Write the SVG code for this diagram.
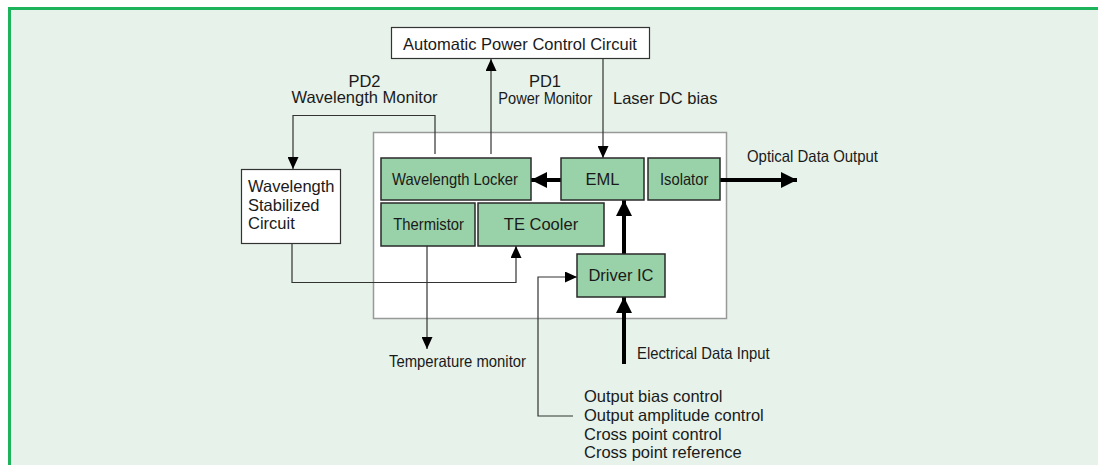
<svg xmlns="http://www.w3.org/2000/svg" width="1098" height="465" viewBox="0 0 1098 465">
<style>
.t{font-family:"Liberation Sans",Arial,sans-serif;fill:#1a1a1a;font-size:16.5px}
.g{fill:#99d1a8;stroke:#2a2a2a;stroke-width:1.5}
.w{fill:#ffffff;stroke:#333;stroke-width:1.2}
.thin{fill:none;stroke:#333;stroke-width:1.2}
.thick{fill:none;stroke:#000;stroke-width:4}
</style>
<defs>
<marker id="ah" markerUnits="userSpaceOnUse" markerWidth="12" markerHeight="11" refX="12" refY="5.5" orient="auto" viewBox="0 0 12 11"><path d="M0,0 L12,5.5 L0,11 z" fill="#000"/></marker>
<marker id="AH" markerUnits="userSpaceOnUse" markerWidth="16" markerHeight="16" refX="16" refY="8" orient="auto" viewBox="0 0 16 16"><path d="M0,0 L16,8 L0,16 z" fill="#000"/></marker>
</defs>
<rect x="9.5" y="8.5" width="1089" height="457" fill="#e6f2ea"/>
<path d="M9.5,465 V8.5 H1098" fill="none" stroke="#1db35a" stroke-width="3"/>
<g id="module"><rect x="373.5" y="132.5" width="353" height="186" fill="#ffffff" stroke="#999" stroke-width="1.5"/></g>
<g id="connectors">
<path class="thin" d="M435,154 V115.5 H293 V169" marker-end="url(#ah)"/>
<path class="thin" d="M491,154 V59" marker-end="url(#ah)"/>
<path class="thin" d="M603,59 V158" marker-end="url(#ah)"/>
<path class="thin" d="M292,243 V282.5 H516 V246" marker-end="url(#ah)"/>
<path class="thin" d="M427,246 V349" marker-end="url(#ah)"/>
<path class="thin" d="M573,416 H538 V277 H577" marker-end="url(#ah)"/>
<path class="thick" d="M561,180 H531" marker-end="url(#AH)"/>
<path class="thick" d="M720,180 H797" marker-end="url(#AH)"/>
<path class="thick" d="M624,254 V200" marker-end="url(#AH)"/>
<path class="thick" d="M624,364 V297" marker-end="url(#AH)"/>
</g>
<g id="apc"><rect class="w" x="391.5" y="27.5" width="258" height="31"/><text class="t" x="520" y="49.5" text-anchor="middle">Automatic Power Control Circuit</text></g>
<g id="wsc"><rect class="w" x="241.5" y="169.5" width="99" height="74"/><text class="t" x="248" y="191.7">Wavelength</text><text class="t" x="248" y="210.7">Stabilized</text><text class="t" x="248" y="229.3">Circuit</text></g>
<g id="locker"><rect class="g" x="381" y="158" width="150" height="42"/><text class="t" x="392" y="185" textLength="126" lengthAdjust="spacingAndGlyphs">Wavelength Locker</text></g>
<g id="eml"><rect class="g" x="561" y="158" width="83" height="42"/><text class="t" x="602.5" y="185" text-anchor="middle">EML</text></g>
<g id="isolator"><rect class="g" x="648" y="158" width="72" height="42"/><text class="t" x="660" y="185" textLength="48.3" lengthAdjust="spacingAndGlyphs">Isolator</text></g>
<g id="thermistor"><rect class="g" x="381" y="203" width="94" height="43"/><text class="t" x="393.3" y="230" textLength="70.7" lengthAdjust="spacingAndGlyphs">Thermistor</text></g>
<g id="tecooler"><rect class="g" x="478" y="203" width="126" height="43"/><text class="t" x="541" y="230" text-anchor="middle">TE Cooler</text></g>
<g id="driver"><rect class="g" x="577" y="254" width="88" height="43"/><text class="t" x="621" y="281" text-anchor="middle">Driver IC</text></g>
<g id="labels">
<text class="t" x="364.5" y="86.5" text-anchor="middle">PD2</text>
<text class="t" x="364.5" y="103.3" text-anchor="middle">Wavelength Monitor</text>
<text class="t" x="545" y="87" text-anchor="middle">PD1</text>
<text class="t" x="498.3" y="104" textLength="94" lengthAdjust="spacingAndGlyphs">Power Monitor</text>
<text class="t" x="613" y="104">Laser DC bias</text>
<text class="t" x="747" y="161.7" textLength="131" lengthAdjust="spacingAndGlyphs">Optical Data Output</text>
<text class="t" x="637" y="359.3" textLength="132.7" lengthAdjust="spacingAndGlyphs">Electrical Data Input</text>
<text class="t" x="389" y="367" textLength="137" lengthAdjust="spacingAndGlyphs">Temperature monitor</text>
<text class="t" x="584" y="402.3">Output bias control</text>
<text class="t" x="584" y="421">Output amplitude control</text>
<text class="t" x="584" y="439.7">Cross point control</text>
<text class="t" x="584" y="458.3">Cross point reference</text>
</g>
</svg>
